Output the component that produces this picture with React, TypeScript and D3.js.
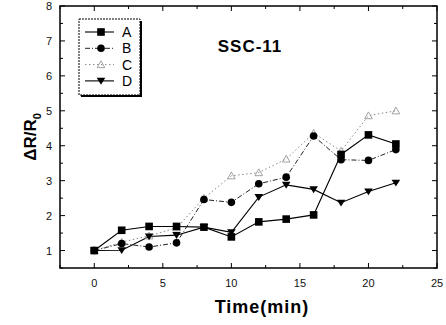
import React from "react";
import * as d3 from "d3";

const times = [0, 2, 4, 6, 8, 10, 12, 14, 16, 18, 20, 22];
const seriesA = [1.0, 1.58, 1.69, 1.69, 1.67, 1.39, 1.82, 1.9, 2.02, 3.75, 4.31, 4.05];
const seriesB = [1.0, 1.2, 1.1, 1.22, 2.46, 2.38, 2.91, 3.1, 4.28, 3.6, 3.58, 3.89];
const seriesC = [1.0, 1.24, 1.42, 1.65, 2.5, 3.14, 3.23, 3.62, 4.36, 3.85, 4.86, 5.0];
const seriesD = [1.0, 1.01, 1.4, 1.44, 1.67, 1.52, 2.53, 2.88, 2.75, 2.37, 2.69, 2.94];
const names = ["A", "B", "C", "D"];
const xTicks = [0, 5, 10, 15, 20, 25];
const yTicks = [1, 2, 3, 4, 5, 6, 7, 8];

const W = 446, H = 325;
const L = 60, R = 437, T = 6, B = 268;

export default function App() {
  const x = d3.scaleLinear().domain([-2.5, 25]).range([L, R]);
  const y = d3.scaleLinear().domain([0.5, 8]).range([B, T]);
  const all = [seriesA, seriesB, seriesC, seriesD];
  const styles = [
    { stroke: "#000", dash: "", width: 1.1 },
    { stroke: "#222", dash: "5,2,1,2", width: 1 },
    { stroke: "#888", dash: "1.5,2.5", width: 1 },
    { stroke: "#000", dash: "", width: 1.1 },
  ];
  const line = (vals: number[]) =>
    d3.line<number>().x((_, i) => x(times[i])).y((v) => y(v))(vals) || "";

  const marker = (k: number, cx: number, cy: number, key: string) => {
    const s = 3.8;
    if (k === 0)
      return <rect key={key} x={cx - s} y={cy - s} width={2 * s} height={2 * s} fill="#000" />;
    if (k === 1) return <circle key={key} cx={cx} cy={cy} r={s} fill="#000" />;
    if (k === 2)
      return (
        <path
          key={key}
          d={`M${cx},${cy - s}L${cx + s},${cy + s * 0.8}L${cx - s},${cy + s * 0.8}Z`}
          fill="none"
          stroke="#999"
          strokeWidth={0.9}
        />
      );
    return (
      <path
        key={key}
        d={`M${cx - s - 0.5},${cy - s * 0.8}L${cx + s + 0.5},${cy - s * 0.8}L${cx},${cy + s}Z`}
        fill="#000"
      />
    );
  };

  const xMinor = d3.range(-2.5, 25.01, 2.5);
  const yMinor = d3.range(0.5, 8.01, 0.5);
  const font = "Arial, 'Liberation Sans', sans-serif";

  return (
    <svg width={W} height={H} style={{ position: "absolute", left: 0, top: 0, background: "#fff" }}>
      <rect width={W} height={H} fill="#fff" />
      {/* ticks */}
      {xMinor.map((t, i) => {
        const major = Math.abs(t % 5) < 1e-6;
        return (
          <g key={"xt" + i}>
            <line x1={x(t)} x2={x(t)} y1={B} y2={B - (major ? 5 : 3)} stroke="#000" strokeWidth={1} />
            <line x1={x(t)} x2={x(t)} y1={T} y2={T + (major ? 5 : 3)} stroke="#000" strokeWidth={1} />
          </g>
        );
      })}
      {yMinor.map((t, i) => {
        const major = Math.abs(t % 1) < 1e-6;
        return (
          <g key={"yt" + i}>
            <line x1={L} x2={L + (major ? 5 : 3)} y1={y(t)} y2={y(t)} stroke="#000" strokeWidth={1} />
            <line x1={R} x2={R - (major ? 5 : 3)} y1={y(t)} y2={y(t)} stroke="#000" strokeWidth={1} />
          </g>
        );
      })}
      <rect x={L} y={T} width={R - L} height={B - T} fill="none" stroke="#000" strokeWidth={1.5} />
      {xTicks.map((t) => (
        <text key={"xl" + t} x={x(t)} y={B + 19} fontSize={11} fontFamily={font} textAnchor="middle" fill="#111">
          {t}
        </text>
      ))}
      {yTicks.map((t) => (
        <text key={"yl" + t} x={L - 8} y={y(t) + 4} fontSize={11} fontFamily={font} textAnchor="end" fill="#111">
          {t}
        </text>
      ))}
      {/* series */}
      {all.map((vals, k) => (
        <path
          key={"l" + k}
          d={line(vals)}
          fill="none"
          stroke={styles[k].stroke}
          strokeWidth={styles[k].width}
          strokeDasharray={styles[k].dash}
        />
      ))}
      {[2, 1, 0, 3].map((k) =>
        all[k].map((v, i) => marker(k, x(times[i]), y(v), `m${k}-${i}`))
      )}
      {/* legend */}
      <rect x={81} y={21} width={61} height={76} fill="#000" />
      <rect x={79} y={19} width={61} height={76} fill="#fff" stroke="#000" strokeWidth={1} strokeDasharray="2,1" />
      {names.map((n, k) => {
        const ly = 32 + k * 16.3;
        return (
          <g key={"lg" + k}>
            <line
              x1={85}
              x2={114}
              y1={ly}
              y2={ly}
              stroke={styles[k].stroke}
              strokeWidth={styles[k].width}
              strokeDasharray={styles[k].dash}
            />
            {marker(k, 101, ly, "lm" + k)}
            <text x={122} y={ly + 5} fontSize={14} fontFamily={font} fill="#000">
              {n}
            </text>
          </g>
        );
      })}
      <text x={250} y={52} fontSize={17} fontWeight="bold" fontFamily={font} textAnchor="middle" letterSpacing={1}>
        SSC-11
      </text>
      <text
        transform={`translate(36,${(T + B) / 2}) rotate(-90)`}
        fontSize={17}
        fontWeight="bold"
        fontFamily={font}
        textAnchor="middle"
      >
        ΔR/R<tspan fontSize={11} dy={5}>0</tspan>
      </text>
      <text x={262} y={313} fontSize={18} fontWeight="bold" fontFamily={font} textAnchor="middle" letterSpacing={1}>
        Time(min)
      </text>
    </svg>
  );
}
